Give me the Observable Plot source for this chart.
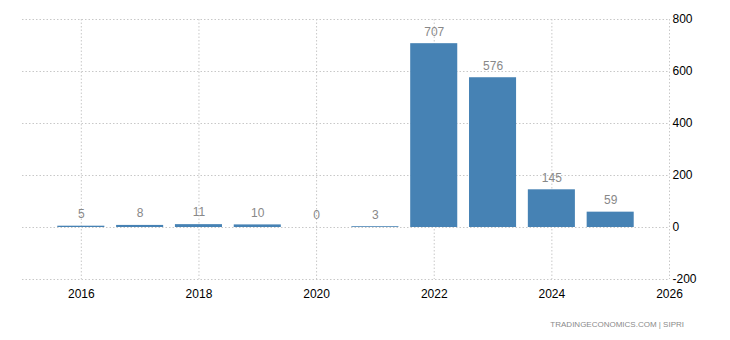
<!DOCTYPE html>
<html>
<head>
<meta charset="utf-8">
<script src="https://cdn.jsdelivr.net/npm/d3@7"></script>
<script src="https://cdn.jsdelivr.net/npm/@observablehq/plot@0.6"></script>
<style>
  html, body { margin: 0; padding: 0; background: #fff; }
  #wrap { position: relative; width: 730px; height: 340px; }
  #source {
    position: absolute; right: 46px; top: 320px;
    font: 8px "Liberation Sans", Arial, sans-serif; color: #8a8a8a;
    white-space: nowrap;
  }
</style>
</head>
<body>
<div id="wrap">
  <div id="chart"></div>
  <div id="source">TRADINGECONOMICS.COM | SIPRI</div>
</div>
<script>
// Yearly values, one bar per year
const years = [2016, 2017, 2018, 2019, 2020, 2021, 2022, 2023, 2024, 2025];
const values = [5, 8, 11, 10, 0, 3, 707, 576, 145, 59];
const xTicks = [2016, 2018, 2020, 2022, 2024, 2026];
const yTicks = [-200, 0, 200, 400, 600, 800];

const data = years.map((year, i) => ({year, value: values[i]}));

const gridStyle = {stroke: "#c8c8c8", strokeOpacity: 1, strokeDasharray: "1.5,2"};

const chart = Plot.plot({
  width: 730,
  height: 310,
  marginTop: 19,
  marginBottom: 31,
  marginLeft: 22,
  marginRight: 61,
  style: {fontFamily: "'Liberation Sans', Arial, sans-serif", fontSize: "12px", color: "#000", background: "#fff"},
  x: {domain: [2015, 2026], label: null},
  y: {domain: [-200, 800], label: null},
  marks: [
    Plot.gridX(xTicks, gridStyle),
    Plot.gridY(yTicks, gridStyle),
    Plot.rectY(data, {
      x1: d => d.year - 0.4,
      x2: d => d.year + 0.4,
      y1: 0,
      y2: "value",
      fill: "#4682b4"
    }),
    Plot.text(data, {
      x: "year", y: "value", text: d => String(d.value),
      dy: -12, fill: "#888", fontSize: 12
    }),
    Plot.axisX(xTicks, {tickSize: 0, tickPadding: 10, tickFormat: d => String(d), fontSize: 12, label: null}),
    Plot.axisY(yTicks, {anchor: "right", tickSize: 0, tickPadding: 3, tickFormat: d => String(d), fontSize: 12, label: null})
  ]
});

document.getElementById("chart").appendChild(chart);
</script>
</body>
</html>
